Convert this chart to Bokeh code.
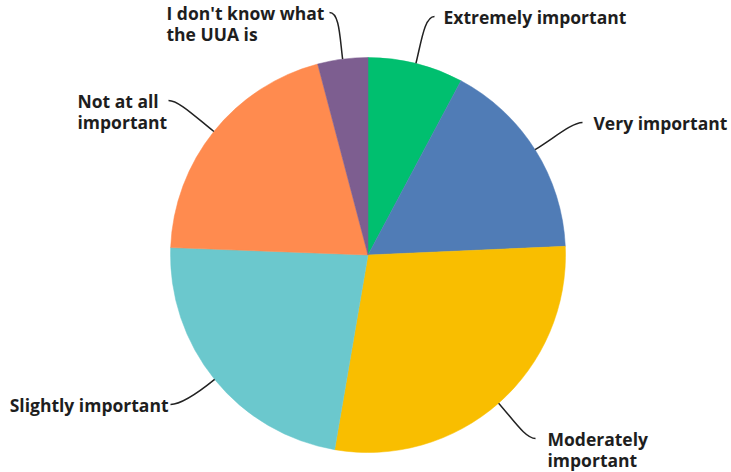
import math
from bokeh.plotting import figure
from bokeh.models import Range1d
from bokeh.core.properties import value
from bokeh.embed import file_html
from bokeh.resources import INLINE

# ---- data ----
categories = ["Extremely important", "Very important", "Moderately important",
              "Slightly important", "Not at all important", "I don't know what the UUA is"]
shares = [7.8, 16.5, 28.4, 22.9, 20.3, 4.1]
label_lines = [["Extremely important"], ["Very important"], ["Moderately", "important"],
               ["Slightly important"], ["Not at all", "important"], ["I don't know what", "the UUA is"]]
colors = ["#00BF6F", "#507CB6", "#F9BE00", "#6BC8CD", "#FF8B4F", "#7D5E90"]

# ---- layout (image pixel coordinates) ----
W, H = 731, 472
IMG_H = 472
cx, cy_img, R = 367.5, 254.5, 197.5
# leader end point, text x, text alignment
label_layout = [
    ((434, 16), 443, "left"),
    ((582, 122), 593, "left"),
    ((535, 438), 547, "left"),
    ((170, 404), 168, "right"),
    ((168, 100), 77, "left"),
    ((329, 12), 166, "left"),
]
LINE_H = 21.5
FONT = "Open Sans"
FSIZE = "17.5px"


def Y(img_y):
    return IMG_H - img_y


p = figure(width=W, height=H, output_backend="svg", toolbar_location=None,
           x_range=Range1d(0, W), y_range=Range1d(0, H),
           min_border=0, outline_line_color=None)
p.axis.visible = False
p.grid.visible = False
p.background_fill_color = "white"
p.border_fill_color = "white"

total = sum(shares)
cum = 0.0
cy = Y(cy_img)
for i, (cat, s) in enumerate(zip(categories, shares)):
    a0 = math.pi / 2 - 2 * math.pi * cum / total
    a1 = math.pi / 2 - 2 * math.pi * (cum + s) / total
    p.wedge(x=cx, y=cy, radius=R, start_angle=a0, end_angle=a1, direction="clock",
            fill_color=colors[i], line_color=colors[i], line_width=0.5)
    mid = (a0 + a1) / 2
    cum += s

    # leader line
    sx, sy = cx + R * math.cos(mid), cy + R * math.sin(mid)
    (ex_img, ey_img), tx, align = label_layout[i]
    ex, ey = ex_img, Y(ey_img)
    dist = math.hypot(ex - sx, ey - sy)
    k = 0.45 * dist
    c0x, c0y = sx + k * math.cos(mid), sy + k * math.sin(mid)
    sign = 1 if tx >= ex else -1
    c1x, c1y = ex - sign * 10, ey
    p.bezier(x0=sx, y0=sy, x1=ex, y1=ey, cx0=c0x, cy0=c0y, cx1=c1x, cy1=c1y,
             line_color="#222222", line_width=1.5)

    for j, line in enumerate(label_lines[i]):
        p.text(x=tx, y=Y(ey_img + j * LINE_H), text=[line], text_align=align,
               text_baseline="middle", text_font=value(FONT), text_font_style="bold",
               text_font_size=FSIZE, text_color="#1e1e1e")

open("out.html", "w").write(file_html(p, INLINE))
